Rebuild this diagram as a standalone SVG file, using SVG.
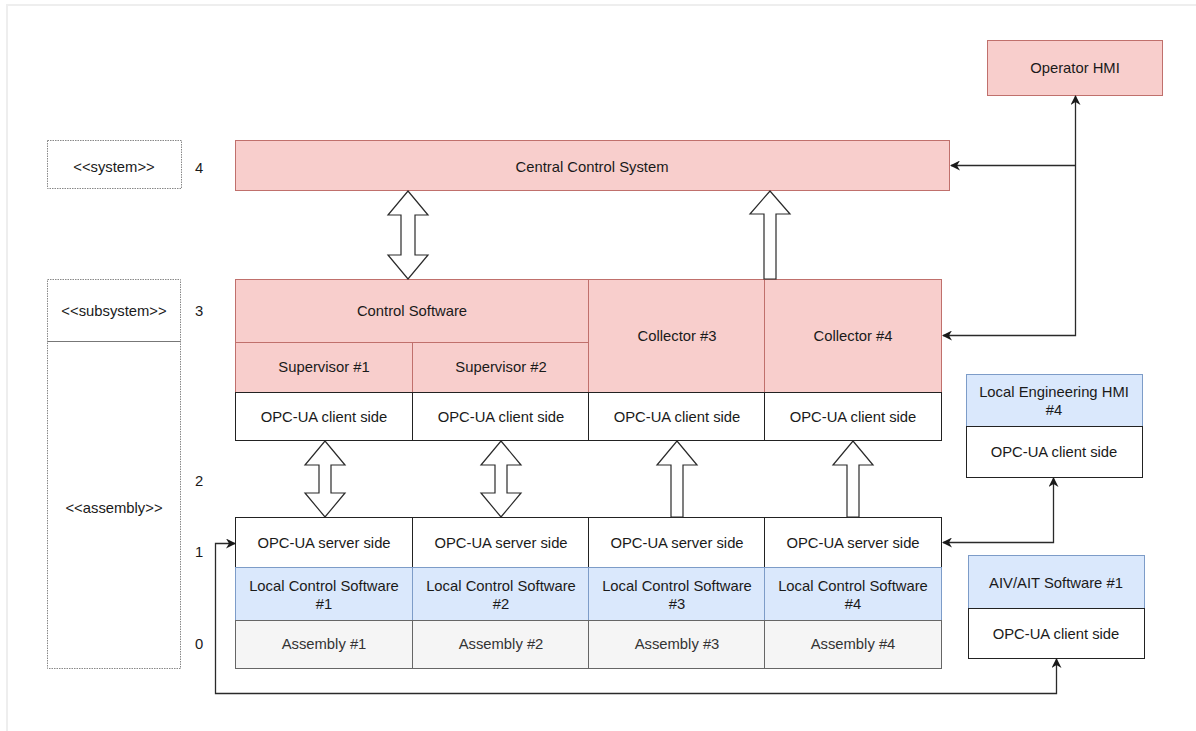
<svg xmlns="http://www.w3.org/2000/svg" width="1196" height="731" viewBox="0 0 1196 731">
<defs>
<style>
text{font-family:"Liberation Sans",Arial,sans-serif;font-size:14.8px;fill:#1a1a1a;text-anchor:middle;dominant-baseline:central}
.pink{fill:#f8cecc;stroke:#c0706c;stroke-width:1}
.blue{fill:#dae8fc;stroke:#7d9cc8;stroke-width:1}
.gray{fill:#f5f5f5;stroke:#666666;stroke-width:1}
.white{fill:#ffffff;stroke:#222222;stroke-width:1}
.lbl{fill:#ffffff;stroke:#888888;stroke-width:1;stroke-dasharray:1.5 1}
.asm{fill:#333333}
.wire{fill:none;stroke:#2a2a2a;stroke-width:1.3}
.fat{fill:#ffffff;stroke:#2a2a2a;stroke-width:1.2;stroke-linejoin:miter}
</style>
<marker id="ah" viewBox="0 0 10 10" refX="9" refY="5" markerWidth="10" markerHeight="10" markerUnits="userSpaceOnUse" orient="auto-start-reverse">
<path d="M0,0 L10,5 L0,10 L3,5 Z" fill="#1a1a1a"/>
</marker>
</defs>
<rect x="0" y="0" width="1196" height="731" fill="#ffffff"/>
<path d="M7,731 V5 H1196" fill="none" stroke="#eeeeee" stroke-width="2"/>

<g id="label-system"><rect class="lbl" x="47.5" y="140.5" width="134" height="48"/><text x="114" y="167">&lt;&lt;system&gt;&gt;</text><text x="199" y="168">4</text></g>
<g id="label-subsystem"><rect class="lbl" x="47.5" y="279.5" width="133" height="62"/><text x="114" y="311">&lt;&lt;subsystem&gt;&gt;</text><text x="199" y="311">3</text></g>
<g id="label-assembly"><rect class="lbl" x="47.5" y="341.5" width="133" height="327"/><line x1="47.5" y1="341.5" x2="180.5" y2="341.5" stroke="#777" stroke-width="1"/><text x="114" y="508">&lt;&lt;assembly&gt;&gt;</text><text x="199" y="481">2</text><text x="199" y="552">1</text><text x="199" y="644">0</text></g>

<g id="operator-hmi"><rect class="pink" x="987.5" y="40.5" width="175" height="55"/><text x="1075" y="68">Operator HMI</text></g>
<g id="central-control-system"><rect class="pink" x="235.5" y="140.5" width="714" height="50"/><text x="592" y="167">Central Control System</text></g>

<g id="control-software"><rect class="pink" x="235.5" y="279.5" width="353" height="63"/><text x="412" y="311">Control Software</text></g>
<g id="supervisor-1"><rect class="pink" x="235.5" y="342.5" width="177" height="50"/><text x="324" y="367">Supervisor #1</text></g>
<g id="supervisor-2"><rect class="pink" x="412.5" y="342.5" width="176" height="50"/><text x="501" y="367">Supervisor #2</text></g>
<g id="collector-3"><rect class="pink" x="588.5" y="279.5" width="176" height="113"/><text x="677" y="336">Collector #3</text></g>
<g id="collector-4"><rect class="pink" x="764.5" y="279.5" width="177" height="113"/><text x="853" y="336">Collector #4</text></g>

<g id="client-1"><rect class="white" x="235.5" y="392.5" width="177" height="48"/><text x="324" y="417">OPC-UA client side</text></g>
<g id="client-2"><rect class="white" x="412.5" y="392.5" width="176" height="48"/><text x="501" y="417">OPC-UA client side</text></g>
<g id="client-3"><rect class="white" x="588.5" y="392.5" width="176" height="48"/><text x="677" y="417">OPC-UA client side</text></g>
<g id="client-4"><rect class="white" x="764.5" y="392.5" width="177" height="48"/><text x="853" y="417">OPC-UA client side</text></g>

<g id="server-1"><rect class="white" x="235.5" y="517.5" width="177" height="50"/><text x="324" y="543">OPC-UA server side</text></g>
<g id="server-2"><rect class="white" x="412.5" y="517.5" width="176" height="50"/><text x="501" y="543">OPC-UA server side</text></g>
<g id="server-3"><rect class="white" x="588.5" y="517.5" width="176" height="50"/><text x="677" y="543">OPC-UA server side</text></g>
<g id="server-4"><rect class="white" x="764.5" y="517.5" width="177" height="50"/><text x="853" y="543">OPC-UA server side</text></g>

<g id="lcs-1"><rect class="blue" x="235.5" y="567.5" width="177" height="53"/><text x="324" y="586">Local Control Software</text><text x="324" y="604">#1</text></g>
<g id="lcs-2"><rect class="blue" x="412.5" y="567.5" width="176" height="53"/><text x="501" y="586">Local Control Software</text><text x="501" y="604">#2</text></g>
<g id="lcs-3"><rect class="blue" x="588.5" y="567.5" width="176" height="53"/><text x="677" y="586">Local Control Software</text><text x="677" y="604">#3</text></g>
<g id="lcs-4"><rect class="blue" x="764.5" y="567.5" width="177" height="53"/><text x="853" y="586">Local Control Software</text><text x="853" y="604">#4</text></g>

<g id="assembly-1"><rect class="gray" x="235.5" y="620.5" width="177" height="48"/><text class="asm" x="324" y="644">Assembly #1</text></g>
<g id="assembly-2"><rect class="gray" x="412.5" y="620.5" width="176" height="48"/><text class="asm" x="501" y="644">Assembly #2</text></g>
<g id="assembly-3"><rect class="gray" x="588.5" y="620.5" width="176" height="48"/><text class="asm" x="677" y="644">Assembly #3</text></g>
<g id="assembly-4"><rect class="gray" x="764.5" y="620.5" width="177" height="48"/><text class="asm" x="853" y="644">Assembly #4</text></g>

<g id="local-engineering-hmi"><rect class="blue" x="966.5" y="374.5" width="176" height="52"/><text x="1054" y="392">Local Engineering HMI</text><text x="1054" y="410">#4</text><rect class="white" x="966.5" y="426.5" width="176" height="51"/><text x="1054" y="452">OPC-UA client side</text></g>
<g id="aiv-ait-software"><rect class="blue" x="968.5" y="555.5" width="176" height="53"/><text x="1056" y="583">AIV/AIT Software #1</text><rect class="white" x="968.5" y="608.5" width="176" height="50"/><text x="1056" y="634">OPC-UA client side</text></g>

<g id="connectors">
<polygon class="fat" points="408,191 428,215 415,215 415,255 428,255 408,279 388,255 401,255 401,215 388,215"/>
<polygon class="fat" points="770,191 790,214 776,214 776,279 764,279 764,214 750,214"/>
<polygon class="fat" points="325,441 345,465 331,465 331,493 345,493 325,517 305,493 319,493 319,465 305,465"/>
<polygon class="fat" points="501,441 521,465 507,465 507,493 521,493 501,517 481,493 495,493 495,465 481,465"/>
<polygon class="fat" points="677,441 697,465 683,465 683,517 671,517 671,465 657,465"/>
<polygon class="fat" points="853,441 873,465 859,465 859,517 847,517 847,465 833,465"/>
<path class="wire" d="M1075.5,96 V335.5 H943" marker-start="url(#ah)" marker-end="url(#ah)"/>
<path class="wire" d="M1075.5,165.5 H951" marker-end="url(#ah)"/>
<path class="wire" d="M943,542.5 H1053.5 V478" marker-start="url(#ah)" marker-end="url(#ah)"/>
<path class="wire" d="M235,543.5 H215.5 V693.5 H1056.5 V659" marker-start="url(#ah)" marker-end="url(#ah)"/>
</g>
</svg>
